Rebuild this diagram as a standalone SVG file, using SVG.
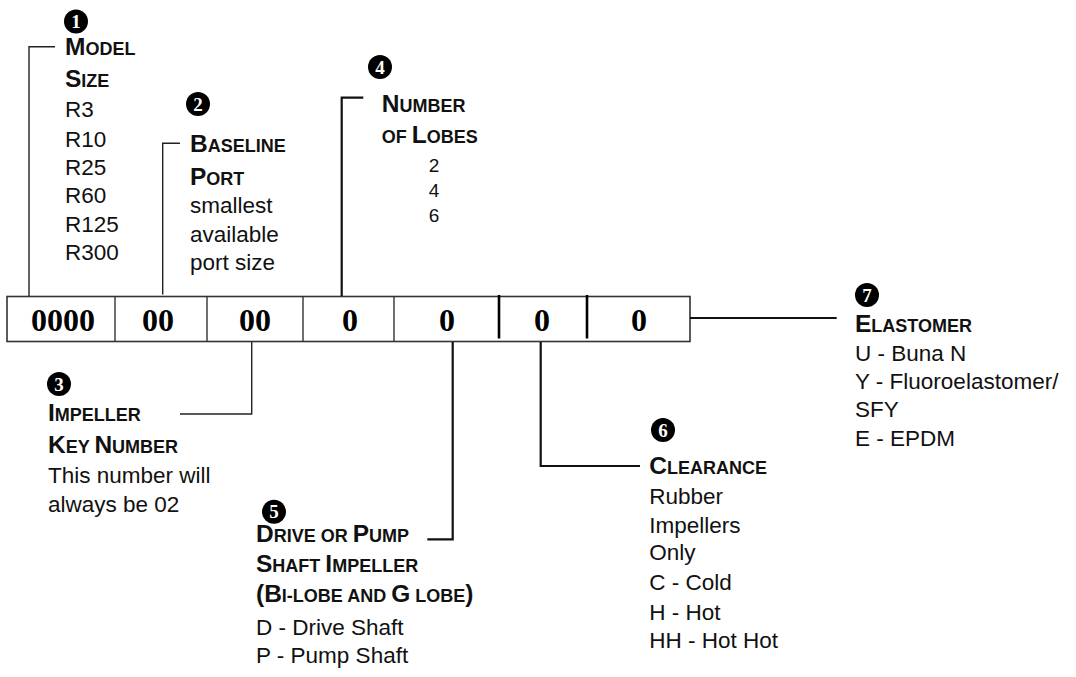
<svg xmlns="http://www.w3.org/2000/svg" width="1076" height="677" viewBox="0 0 1076 677">
<style>
.h{font-family:"Liberation Sans",Arial,sans-serif;font-weight:bold;font-size:18px;fill:#111}
.b{font-size:24.5px}
.t{font-family:"Liberation Sans",Arial,sans-serif;font-size:22.5px;fill:#111}
.s{font-family:"Liberation Sans",Arial,sans-serif;font-size:19px;fill:#111;text-anchor:middle}
.d{font-family:"Liberation Serif","Times New Roman",serif;font-weight:bold;font-size:32px;fill:#000;text-anchor:middle}
.n{font-family:"Liberation Serif","Times New Roman",serif;font-weight:bold;font-size:19px;fill:#fff;text-anchor:middle}
.thin{fill:none;stroke:#222;stroke-width:1.4}
.thick{fill:none;stroke:#111;stroke-width:2.2}
</style>
<rect width="1076" height="677" fill="#fff"/>
<g id="code-box">
<rect x="7" y="296.5" width="683" height="45" fill="#fff" stroke="#333" stroke-width="1.6"/>
<line x1="115" y1="296.5" x2="115" y2="341.5" stroke="#333" stroke-width="1.4"/>
<line x1="207" y1="296.5" x2="207" y2="341.5" stroke="#333" stroke-width="1.4"/>
<line x1="303" y1="296.5" x2="303" y2="341.5" stroke="#333" stroke-width="1.4"/>
<line x1="394" y1="296.5" x2="394" y2="341.5" stroke="#333" stroke-width="1.4"/>
<line x1="499" y1="295" x2="499" y2="338.5" stroke="#000" stroke-width="2.6"/>
<line x1="587" y1="295" x2="587" y2="338.5" stroke="#000" stroke-width="2.6"/>
<text class="d" x="63" y="331">0000</text>
<text class="d" x="158" y="331">00</text>
<text class="d" x="255" y="331">00</text>
<text class="d" x="350" y="331">0</text>
<text class="d" x="447" y="331">0</text>
<text class="d" x="542" y="331">0</text>
<text class="d" x="639" y="331">0</text>
</g>
<g id="connectors">
<polyline class="thin" points="55,46.7 29,46.7 29,296"/>
<polyline class="thin" points="180,143.3 162.7,143.3 162.7,294.5"/>
<polyline class="thick" points="363.3,97.7 341.7,97.7 341.7,296"/>
<polyline class="thin" points="180,414 251.7,414 251.7,342"/>
<polyline class="thick" points="427.3,539.3 452.7,539.3 452.7,342"/>
<polyline class="thick" points="540.7,342 540.7,466 640,466"/>
<line class="thick" x1="690" y1="318" x2="836.7" y2="318"/>
</g>
<g id="item-1">
<circle cx="76" cy="21.5" r="12"/>
<text class="n" x="76" y="28">1</text>
<text class="h" x="65" y="55"><tspan class="b">M</tspan>ODEL</text>
<text class="h" x="65" y="86.7"><tspan class="b">S</tspan>IZE</text>
<text class="t" x="65" y="116.7">R3</text>
<text class="t" x="65" y="146.7">R10</text>
<text class="t" x="65" y="175">R25</text>
<text class="t" x="65" y="203.3">R60</text>
<text class="t" x="65" y="231.7">R125</text>
<text class="t" x="65" y="260">R300</text>
</g>
<g id="item-2">
<circle cx="198" cy="104" r="12"/>
<text class="n" x="198" y="110.5">2</text>
<text class="h" x="190" y="151.7"><tspan class="b">B</tspan>ASELINE</text>
<text class="h" x="190" y="185"><tspan class="b">P</tspan>ORT</text>
<text class="t" x="190" y="213.3">smallest</text>
<text class="t" x="190" y="241.7">available</text>
<text class="t" x="190" y="270">port size</text>
</g>
<g id="item-4">
<circle cx="380" cy="67" r="12"/>
<text class="n" x="380" y="73.5">4</text>
<text class="h" x="381.7" y="111.7"><tspan class="b">N</tspan>UMBER</text>
<text class="h" x="381.7" y="142.7">OF <tspan class="b">L</tspan>OBES</text>
<text class="s" x="434" y="171.7">2</text>
<text class="s" x="434" y="196.7">4</text>
<text class="s" x="434" y="221.7">6</text>
</g>
<g id="item-3">
<circle cx="59" cy="384" r="12"/>
<text class="n" x="59" y="390.5">3</text>
<text class="h" x="48" y="421"><tspan class="b">I</tspan>MPELLER</text>
<text class="h" x="48" y="452.7"><tspan class="b">K</tspan>EY <tspan class="b">N</tspan>UMBER</text>
<text class="t" x="48" y="483.3">This number will</text>
<text class="t" x="48" y="511.7">always be 02</text>
</g>
<g id="item-5">
<circle cx="274" cy="511.7" r="12"/>
<text class="n" x="274" y="518.2">5</text>
<text class="h" x="256" y="541.7"><tspan class="b">D</tspan>RIVE OR <tspan class="b">P</tspan>UMP</text>
<text class="h" x="256" y="571.7"><tspan class="b">S</tspan>HAFT <tspan class="b">I</tspan>MPELLER</text>
<text class="h" x="256" y="601.7"><tspan class="b">(B</tspan>I-LOBE AND <tspan class="b">G</tspan> LOBE<tspan class="b">)</tspan></text>
<text class="t" x="256" y="635">D - Drive Shaft</text>
<text class="t" x="256" y="663.3">P - Pump Shaft</text>
</g>
<g id="item-6">
<circle cx="663" cy="430" r="12"/>
<text class="n" x="663" y="436.5">6</text>
<text class="h" x="649.3" y="474"><tspan class="b">C</tspan>LEARANCE</text>
<text class="t" x="649.3" y="504">Rubber</text>
<text class="t" x="649.3" y="532.7">Impellers</text>
<text class="t" x="649.3" y="560">Only</text>
<text class="t" x="649.3" y="590">C - Cold</text>
<text class="t" x="649.3" y="620">H - Hot</text>
<text class="t" x="649.3" y="648.3">HH - Hot Hot</text>
</g>
<g id="item-7">
<circle cx="867" cy="295" r="12"/>
<text class="n" x="867" y="301.5">7</text>
<text class="h" x="855" y="331.7"><tspan class="b">E</tspan>LASTOMER</text>
<text class="t" x="855" y="360.7">U - Buna N</text>
<text class="t" x="855" y="389.3">Y - Fluoroelastomer/</text>
<text class="t" x="855" y="417.3">SFY</text>
<text class="t" x="855" y="446">E - EPDM</text>
</g>
</svg>
